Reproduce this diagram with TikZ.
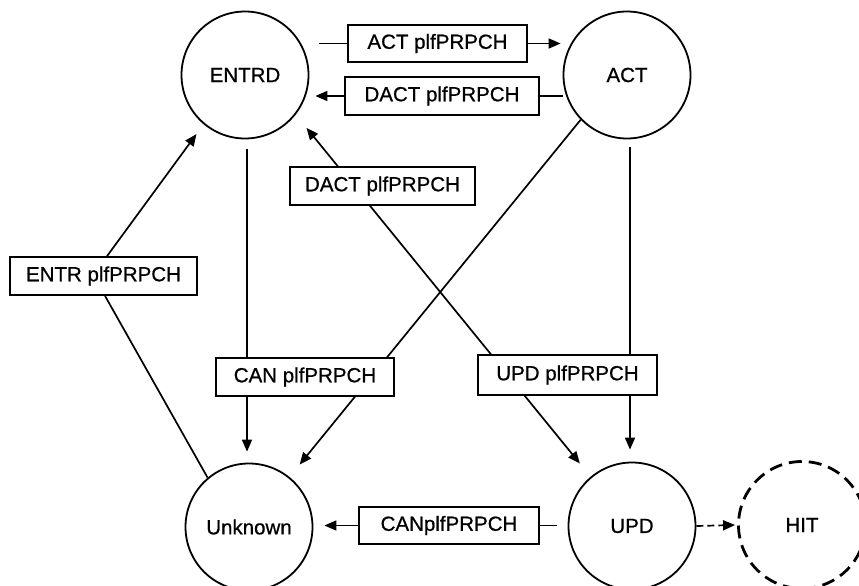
\documentclass[tikz,border=0pt]{standalone}
\usepackage{fontspec}
\setmainfont{Liberation Sans}[FakeBold=0.7]
\usetikzlibrary{arrows.meta,calc}
\begin{document}
\begin{tikzpicture}[x=1pt,y=-1pt,
  every node/.style={font=\fontsize{20.5}{24}\selectfont},
  state/.style={draw,circle,line width=1.8pt,minimum size=127pt,inner sep=0pt},
  lbl/.style={draw,fill=white,line width=1.7pt,inner sep=0pt,minimum height=38pt},
  conn/.style={line width=1.7pt},
  arr/.style={conn,-{Triangle[length=12pt,width=10pt]}},
  barr/.style={conn,{Triangle[length=12pt,width=10pt]}-{Triangle[length=12pt,width=10pt]}}]
\useasboundingbox (0,0) rectangle (859,586);
% states
\node[state] (ENTRD) at (245,75) {ENTRD};
\node[state] (ACT) at (627,75) {ACT};
\node[state] (Unknown) at (249,527) {Unknown};
\node[state] (UPD) at (632,526) {UPD};
\node[state,line width=2.8pt,dash pattern=on 13pt off 7pt] (HIT) at (802,525) {HIT};
% label boxes (positions)
\coordinate (pACT) at (437.5,43.5);
\coordinate (pDACT) at (442,96);
\coordinate (pDACTm) at (382.5,186);
\coordinate (pENTR) at (103.5,276);
\coordinate (pCAN) at (305,377);
\coordinate (pUPDb) at (567.5,375);
\coordinate (pCANb) at (449,525.5);
% connectors first (boxes are drawn over them)
\draw[arr,shorten <=10pt,shorten >=11pt] ([xshift=2pt]ENTRD.south) -- ([xshift=2pt]ENTRD.south |- Unknown.north);
\draw[arr,shorten <=8pt,shorten >=12pt] ([xshift=3pt]ACT.south) -- ([xshift=3pt]ACT.south |- UPD.north);
\draw[arr,shorten >=16pt] (ACT.224) -- (Unknown.51);
\draw[barr,shorten <=17pt,shorten >=17pt] (ENTRD.322) -- (UPD.130);
\draw[arr,dashed,dash pattern=on 7pt off 4pt] (UPD.east) -- ([xshift=-2pt]HIT.west);
% boxes
\node[lbl,minimum width=179pt,minimum height=37pt] (actbox) at (pACT) {ACT plfPRPCH};
\node[lbl,minimum width=194pt] (dactbox) at (pDACT) {DACT plfPRPCH};
\node[lbl,minimum width=185pt] (dactmid) at (pDACTm) {DACT plfPRPCH};
\node[lbl,minimum width=187pt] (entrbox) at (pENTR) {ENTR plfPRPCH};
\node[lbl,minimum width=178pt] (canbox) at (pCAN) {CAN plfPRPCH};
\node[lbl,minimum width=179pt,minimum height=40pt] (updbox) at (pUPDb) {UPD plfPRPCH};
\node[lbl,minimum width=180pt,minimum height=37pt] (canbot) at (pCANb) {CANplfPRPCH};
% connectors through boxes
\draw[conn] ([xshift=10pt]ENTRD.east |- actbox.west) -- (actbox.west);
\draw[arr] (actbox.east) -- ([xshift=-2pt]ACT.west |- actbox.east);
\draw[conn] (ACT.west |- dactbox.east) -- (dactbox.east);
\draw[arr] (dactbox.west) -- ([xshift=6pt]ENTRD.east |- dactbox.west);
\draw[conn] (Unknown.130) -- ([xshift=1.5pt]entrbox.south);
\draw[arr,shorten >=12pt] ([xshift=3.5pt]entrbox.north) -- (ENTRD.230);
\draw[conn] ([xshift=-11pt]UPD.west |- canbot.east) -- (canbot.east);
\draw[arr] (canbot.west) -- ([xshift=11pt]Unknown.east |- canbot.west);
\end{tikzpicture}
\end{document}
